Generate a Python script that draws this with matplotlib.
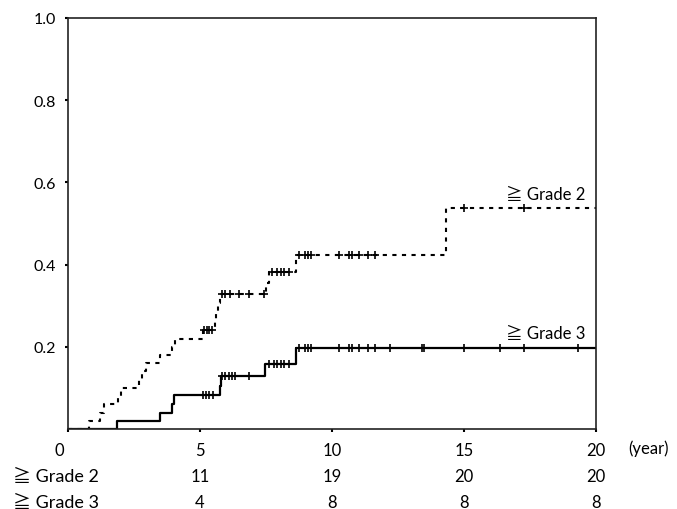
import numpy as np
import matplotlib
matplotlib.use('Agg')
import matplotlib.pyplot as plt
import matplotlib.transforms as mtransforms

# ---- data ----
g2_event_times = [0.8, 1.2, 1.35, 1.9, 2.0, 2.7, 2.8, 2.95, 3.5, 3.95, 4.05,
                  5.1, 5.55, 5.62, 5.69, 5.76, 7.5, 7.6, 8.63, 14.3]
g2_levels = [0.02, 0.04, 0.06, 0.08, 0.10, 0.12, 0.14, 0.16, 0.18, 0.20, 0.22,
             0.24, 0.262, 0.284, 0.306, 0.328, 0.356, 0.383, 0.423, 0.538]
g2_censor_times = [5.15, 5.25, 5.35, 5.45,
                   5.85, 5.96, 6.15, 6.46, 6.84, 7.44,
                   7.73, 7.92, 8.05, 8.17, 8.36,
                   8.76, 8.97, 9.1, 9.22, 10.26, 10.66, 10.76, 11.03, 11.35, 11.63,
                   15.0, 17.26]

g3_event_times = [1.87, 3.5, 3.95, 4.02, 5.76, 5.8, 7.46, 8.64]
g3_levels = [0.02, 0.04, 0.062, 0.083, 0.105, 0.13, 0.158, 0.197]
g3_censor_times = [5.1, 5.22, 5.33, 5.48,
                   5.83, 5.96, 6.08, 6.21, 6.34, 6.84,
                   7.6, 7.8, 7.92, 8.05, 8.17, 8.36,
                   8.76, 8.97, 9.1, 9.22, 10.26, 10.66, 10.76, 11.03, 11.35, 11.63,
                   12.2, 13.4, 13.5, 15.0, 16.35, 17.26, 19.3]

x_max = 20
x_ticks = [0, 5, 10, 15, 20]
y_ticks = [0.2, 0.4, 0.6, 0.8, 1.0]
y_tick_labels = ['0.2', '0.4', '0.6', '0.8', '1.0']

risk_times = [5, 10, 15, 20]
g2_counts = [11, 19, 20, 20]
g3_counts = [4, 8, 8, 8]
row_labels = ['≧ Grade 2', '≧ Grade 3']

FAM = ['Lato', 'Noto Sans CJK JP', 'DejaVu Sans']
FS = 12

fig = plt.figure(figsize=(6.77, 5.10), dpi=100)
ax = fig.add_axes([68 / 677, 1 - 430 / 510, (596 - 68) / 677, (430 - 19) / 510])


def curve(times, levels):
    xs = [0] + list(times) + [x_max]
    ys = [0] + list(levels) + [levels[-1]]
    return xs, ys


def level_at(times, levels, t):
    lv = [0] + list(levels)
    idx = np.searchsorted(times, t, side='right')
    return lv[idx]


xs, ys = curve(g2_event_times, g2_levels)
ax.step(xs, ys, where='post', color='black', lw=1.5, linestyle=(0, (2.0, 2.6)))
cy = [level_at(g2_event_times, g2_levels, t) for t in g2_censor_times]
ax.plot(g2_censor_times, cy, linestyle='none', marker='+', color='black', ms=6, mew=1.2)

xs, ys = curve(g3_event_times, g3_levels)
ax.step(xs, ys, where='post', color='black', lw=1.6)
cy = [level_at(g3_event_times, g3_levels, t) for t in g3_censor_times]
ax.plot(g3_censor_times, cy, linestyle='none', marker='+', color='black', ms=6, mew=1.2)

ax.set_xlim(0, x_max)
ax.set_ylim(0, 1.0)
ax.set_xticks(x_ticks)
ax.set_xticklabels([str(v) for v in x_ticks], family=FAM, fontsize=FS)
ax.set_yticks(y_ticks)
ax.set_yticklabels(y_tick_labels, family=FAM, fontsize=FS - 0.5)
ax.tick_params(direction='out', length=2.5, width=1.5, colors='black')
ax.tick_params(axis='x', pad=7)
ax.tick_params(axis='y', pad=6)
# the "0" label sits a little left of its tick in the reference
lbl0 = ax.get_xticklabels()[0]
lbl0.set_transform(lbl0.get_transform() + mtransforms.ScaledTranslation(-0.09, 0, fig.dpi_scale_trans))
for s in ax.spines.values():
    s.set_linewidth(1.2)
    s.set_color('#222222')

ax.text(19.6, 0.572, '≧ Grade 2', ha='right', va='center', family=FAM, fontsize=FS)
ax.text(19.6, 0.234, '≧ Grade 3', ha='right', va='center', family=FAM, fontsize=FS)

fig.text(628 / 677, 1 - 449 / 510, '(year)', ha='left', va='center', family=FAM, fontsize=FS)

trans = mtransforms.blended_transform_factory(ax.transData, fig.transFigure)
row_y = [1 - 477 / 510, 1 - 503 / 510]
for lab, yy in zip(row_labels, row_y):
    fig.text(13 / 677, yy, lab, ha='left', va='center', family=FAM, fontsize=FS + 1)
for t, c in zip(risk_times, g2_counts):
    ax.text(t, row_y[0], str(c), transform=trans, ha='center', va='center', family=FAM, fontsize=FS)
for t, c in zip(risk_times, g3_counts):
    ax.text(t, row_y[1], str(c), transform=trans, ha='center', va='center', family=FAM, fontsize=FS)

fig.savefig('out.png', dpi=100)
